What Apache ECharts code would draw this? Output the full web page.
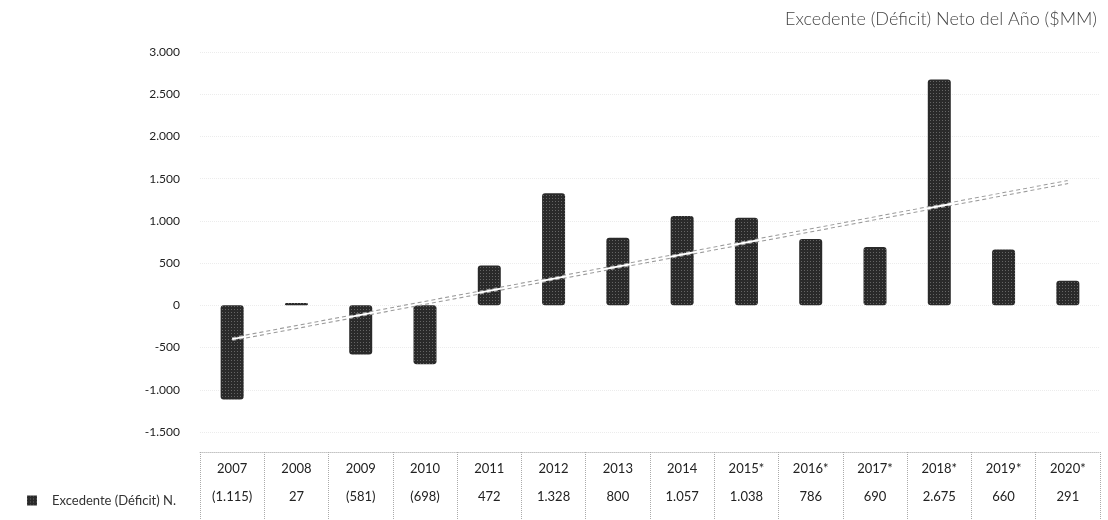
<!DOCTYPE html>
<html>
<head>
<meta charset="utf-8">
<script src="https://cdn.jsdelivr.net/npm/echarts@6/dist/echarts.min.js"></script>
<style>
  html, body { margin: 0; padding: 0; background: #fff; }
  #chart { width: 1108px; height: 520px; }
</style>
</head>
<body>
<div id="chart"></div>
<script>
const titleText = 'Excedente (Déficit) Neto del Año ($MM)';
const seriesName = 'Excedente (Déficit) N.';
const categories = ['2007', '2008', '2009', '2010', '2011', '2012', '2013', '2014', '2015*', '2016*', '2017*', '2018*', '2019*', '2020*'];
const values = [-1115, 27, -581, -698, 472, 1328, 800, 1057, 1038, 786, 690, 2675, 660, 291];
// trendline endpoints (first and last year)
const trend = [-400, null, null, null, null, null, null, null, null, null, null, null, null, 1460];
const yTicks = { min: -1500, max: 3000, interval: 500 };

function fmtThousands(v) {
  const s = Math.abs(v).toString().replace(/\B(?=(\d{3})+(?!\d))/g, '.');
  return (v < 0 ? '-' : '') + s;
}
function fmtTable(v) {
  const s = Math.abs(v).toString().replace(/\B(?=(\d{3})+(?!\d))/g, '.');
  return v < 0 ? '(' + s + ')' : s;
}

const FONT = 'Lato, "Open Sans", sans-serif';
const chart = echarts.init(document.getElementById('chart'));
chart.setOption({
  animation: false,
  title: {
    text: titleText,
    right: 6, top: 5,
    textStyle: { fontFamily: FONT, fontSize: 18, fontWeight: 300, color: '#444' }
  },
  legend: {
    data: [seriesName],
    left: 22, top: 489,
    itemWidth: 10, itemHeight: 10, itemGap: 6,
    icon: 'rect',
    textStyle: { fontFamily: FONT, fontSize: 13, color: '#333', padding: [0, 0, 0, 10] }
  },
  grid: { left: 200, right: 8, top: 52, bottom: 88, containLabel: false },
  xAxis: [
    {
      type: 'category', data: categories, position: 'bottom', offset: 20,
      axisLine: { show: true, onZero: false, lineStyle: { color: '#c4c4c4', type: 'dotted' } },
      axisTick: { show: true, alignWithLabel: false, length: 68, lineStyle: { color: '#aaa', type: 'dotted' } },
      axisLabel: { margin: 10, fontFamily: FONT, fontSize: 13, color: '#222' }
    },
    {
      type: 'category', data: categories, position: 'bottom', offset: 48,
      axisLine: { show: false, onZero: false }, axisTick: { show: false },
      axisLabel: {
        margin: 10, fontFamily: FONT, fontSize: 13, color: '#222',
        formatter: (val, idx) => fmtTable(values[idx])
      }
    }
  ],
  yAxis: {
    type: 'value', min: yTicks.min, max: yTicks.max, interval: yTicks.interval,
    axisLine: { show: false }, axisTick: { show: false },
    splitLine: { show: true, lineStyle: { color: '#ececec', type: 'dotted' } },
    axisLabel: { margin: 20, fontFamily: FONT, fontSize: 12, color: '#222', formatter: fmtThousands }
  },
  series: [
    {
      name: seriesName, type: 'bar', data: values, barWidth: 23,
      itemStyle: {
        color: '#2a2a2a', borderRadius: 3,
        decal: { symbol: 'rect', symbolSize: 1, color: 'rgba(255,255,255,0.28)', dashArrayX: [1, 2], dashArrayY: [1, 2], rotation: 0 }
      }
    },
    {
      name: 'trend-edge', type: 'line', data: trend, connectNulls: true, symbol: 'none', z: 5,
      lineStyle: { color: '#9a9a9a', width: 4, type: [4, 3] }
    },
    {
      name: 'trend', type: 'line', data: trend, connectNulls: true, symbol: 'none', z: 6,
      lineStyle: { color: '#ffffff', width: 2 }
    }
  ]
});
</script>
</body>
</html>
